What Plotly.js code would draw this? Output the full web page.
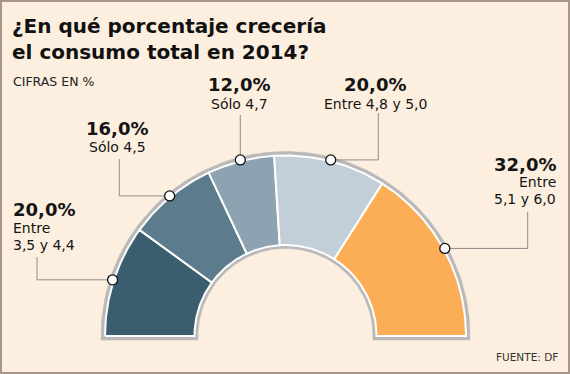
<!DOCTYPE html>
<html>
<head>
<meta charset="utf-8">
<script src="https://cdn.plot.ly/plotly-3.0.1.min.js"></script>
<style>
  html, body { margin: 0; padding: 0; background: #fcefdf; overflow: hidden; }
  #chart { width: 570px; height: 374px; }
</style>
</head>
<body>
<div id="chart"></div>
<script>
// ---- data ----
const categories = ['Entre 3,5 y 4,4', 'Sólo 4,5', 'Sólo 4,7', 'Entre 4,8 y 5,0', 'Entre 5,1 y 6,0'];
const shares = [20, 16, 12, 20, 32];
const shareLabels = ['20,0%', '16,0%', '12,0%', '20,0%', '32,0%'];
const labelLines = [['Entre', '3,5 y 4,4'], ['Sólo 4,5'], ['Sólo 4,7'], ['Entre 4,8 y 5,0'], ['Entre', '5,1 y 6,0']];

// ---- styles / layout geometry (pixel units of the 570x374 canvas) ----
const colors = ['#3b5e6f', '#5c7b8c', '#8da3b1', '#c3cfd8', '#fbae55'];
const cx = 285.5, cy = 336, rIn = 91, rOut = 180.5;
const ringIn = 87.5, ringOut = 184.5, ringDrop = 4;
const markerR = 181.8;
// label anchors: text x, baselines, alignment, leader elbow x (null = straight up), leader end y
const labelLayout = [
  {x: 12, base: [216, 233.3, 250.3], align: 'left', elbowX: 37, endY: 257},
  {x: 117, base: [134.7, 151.7], align: 'center', elbowX: 119.3, endY: 159},
  {x: 239, base: [90.8, 109.3], align: 'center', elbowX: null, endY: 115},
  {x: 375, base: [90.8, 109.3], align: 'center', elbowX: 378.3, endY: 113},
  {x: 557, base: [170.7, 186.7, 204], align: 'right', elbowX: 527.7, endY: 212}
];

const total = shares.reduce((a, b) => a + b, 0);
const rad = d => d * Math.PI / 180;
function arc(r, a0, a1, n) {
  const xs = [], ys = [];
  for (let i = 0; i <= n; i++) {
    const a = rad(a0 + (a1 - a0) * i / n);
    xs.push(cx + r * Math.cos(a));
    ys.push(cy - r * Math.sin(a));
  }
  return [xs, ys];
}

const traces = [];
// grey outline ring behind the half donut
{
  const [ox, oy] = arc(ringOut, 180, 0, 120);
  const [ix, iy] = arc(ringIn, 0, 180, 80);
  const xs = [cx - ringOut, ...ox, cx + ringOut, cx + ringIn, ...ix, cx - ringIn, cx - ringOut];
  const ys = [cy + ringDrop, ...oy, cy + ringDrop, cy + ringDrop, ...iy, cy + ringDrop, cy + ringDrop];
  traces.push({x: xs, y: ys, type: 'scatter', mode: 'lines', fill: 'toself',
    fillcolor: '#b9b9b9', line: {color: '#b9b9b9', width: 0.5}, hoverinfo: 'skip', showlegend: false});
}

// slices
let cum = 0;
const mids = [];
shares.forEach((v, i) => {
  const a0 = 180 - 180 * cum / total;
  cum += v;
  const a1 = 180 - 180 * cum / total;
  mids.push((a0 + a1) / 2);
  const [ox, oy] = arc(rOut, a0, a1, 60);
  const [ix, iy] = arc(rIn, a1, a0, 40);
  const xs = [...ox, ...ix, ox[0]];
  const ys = [...oy, ...iy, oy[0]];
  traces.push({x: xs, y: ys, type: 'scatter', mode: 'lines', fill: 'toself',
    fillcolor: colors[i], line: {color: '#ffffff', width: 2}, name: categories[i],
    hoverinfo: 'skip', showlegend: false});
});

// leader lines
const lx = [], ly = [];
const mx = [], my = [];
mids.forEach((a, i) => {
  const px = cx + markerR * Math.cos(rad(a));
  const py = cy - markerR * Math.sin(rad(a));
  mx.push(px); my.push(py);
  const L = labelLayout[i];
  if (L.elbowX === null) {
    lx.push(px, px, null); ly.push(py, L.endY, null);
  } else {
    lx.push(px, L.elbowX, L.elbowX, null); ly.push(py, py, L.endY, null);
  }
});
traces.push({x: lx, y: ly, type: 'scatter', mode: 'lines', line: {color: '#8c8c8c', width: 1},
  hoverinfo: 'skip', showlegend: false});
traces.push({x: mx, y: my, type: 'scatter', mode: 'markers',
  marker: {size: 10, color: '#ffffff', line: {color: '#111111', width: 1.3}},
  hoverinfo: 'skip', showlegend: false});

// labels
const annotations = [];
labelLayout.forEach((L, i) => {
  const lines = [{t: shareLabels[i], s: 18, f: 'DejaVu Sans', w: 'bold'}]
    .concat(labelLines[i].map(t => ({t: t, s: 14, f: 'DejaVu Sans', w: 'normal'})));
  lines.forEach((ln, k) => {
    annotations.push({x: L.x, y: L.base[k] - 0.35 * ln.s, xref: 'x', yref: 'y',
      text: ln.t, showarrow: false, xanchor: L.align, yanchor: 'middle', borderpad: 0,
      font: {family: ln.f, size: ln.s, color: '#141414', weight: ln.w}});
  });
});
annotations.push({x: 12, y: 86 - 0.35 * 12.5, xref: 'x', yref: 'y', text: 'CIFRAS EN %',
  showarrow: false, xanchor: 'left', yanchor: 'middle', borderpad: 0,
  font: {family: 'DejaVu Sans', size: 12.5, color: '#222222'}});
annotations.push({x: 559, y: 361 - 0.35 * 10.5, xref: 'x', yref: 'y', text: 'FUENTE: DF',
  showarrow: false, xanchor: 'right', yanchor: 'middle', borderpad: 0,
  font: {family: 'DejaVu Sans', size: 10.5, color: '#333333'}});

const layout = {
  width: 570, height: 374, autosize: false,
  margin: {l: 0, r: 0, t: 0, b: 0, pad: 0},
  paper_bgcolor: '#fcefdf', plot_bgcolor: 'rgba(0,0,0,0)',
  title: {text: '¿En qué porcentaje crecería<br>el consumo total en 2014?',
    x: 12 / 570, xanchor: 'left', xref: 'paper',
    y: 1 - 33 / 374, yanchor: 'middle', yref: 'container',
    font: {family: 'DejaVu Sans', size: 20, color: '#111111', weight: 'bold'}},
  xaxis: {range: [0, 570], visible: false, fixedrange: true},
  yaxis: {range: [374, 0], visible: false, fixedrange: true},
  showlegend: false,
  annotations: annotations,
  shapes: [{type: 'rect', xref: 'paper', yref: 'paper', x0: 1 / 570, x1: 569 / 570, y0: 1 / 374, y1: 373 / 374,
    line: {color: '#a8968a', width: 2}, fillcolor: 'rgba(0,0,0,0)'}]
};

Plotly.newPlot('chart', traces, layout, {displayModeBar: false, staticPlot: true});
</script>
</body>
</html>
